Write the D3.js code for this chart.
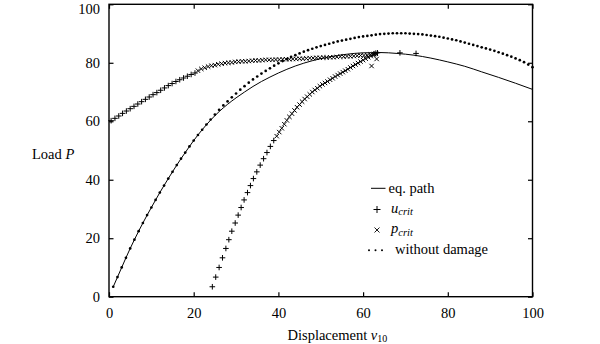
<!DOCTYPE html>
<html>
<head>
<meta charset="utf-8">
<script src="https://cdn.jsdelivr.net/npm/d3@7"></script>
<style>
  html, body { margin: 0; padding: 0; background: #fff; }
  svg { display: block; }
  text { font-family: "Liberation Serif", "Times New Roman", serif; fill: #000; }
</style>
</head>
<body>
<svg id="chart" width="600" height="344"></svg>
<script>
// ---------------- data ----------------
const xTicks = [0, 20, 40, 60, 80, 100];
const yTicks = [0, 20, 40, 60, 80, 100];

// equilibrium path (solid line)
const eqX = [1, 2, 3, 4, 5, 6, 7, 8, 9, 10, 12, 14, 16, 18, 20, 22, 24, 26, 28, 30, 32, 34, 36, 38, 40, 44, 48, 52, 56, 60, 64, 68, 72, 76, 80, 84, 88, 92, 96, 100];
const eqY = [3.4, 6.7, 10.0, 13.3, 16.5, 19.5, 22.4, 25.2, 27.9, 30.5, 35.6, 40.4, 45.0, 49.3, 53.4, 57.1, 60.4, 63.3, 65.8, 68.0, 70.0, 71.9, 73.6, 75.1, 76.5, 78.9, 80.7, 82.0, 82.9, 83.4, 83.5, 83.2, 82.6, 81.6, 80.3, 78.8, 76.9, 75.0, 73.0, 70.9];

// without damage (dots), at v10 = 1 .. 100
const noDamageY = [
  3.4, 6.7, 10.0, 13.3, 16.5, 19.5, 22.4, 25.2, 27.9, 30.5,
  33.1, 35.6, 38.0, 40.4, 42.7, 45.0, 47.2, 49.3, 51.4, 53.4,
  55.3, 57.1, 58.9, 60.6, 62.3, 63.9, 65.4, 66.8, 68.2, 69.5,
  70.8, 72.0, 73.2, 74.3, 75.3, 76.3, 77.2, 78.1, 79.0, 79.8,
  80.6, 81.3, 82.0, 82.6, 83.2, 83.8, 84.3, 84.8, 85.3, 85.7,
  86.1, 86.5, 86.9, 87.3, 87.6, 87.9, 88.2, 88.5, 88.8, 89.0,
  89.2, 89.4, 89.6, 89.8, 89.9, 90.0, 90.1, 90.1, 90.1, 90.1,
  90.0, 89.9, 89.8, 89.7, 89.5, 89.3, 89.1, 88.9, 88.6, 88.3,
  88.0, 87.7, 87.3, 86.9, 86.5, 86.1, 85.7, 85.3, 84.9, 84.5,
  84.1, 83.6, 83.1, 82.6, 82.1, 81.5, 80.9, 80.2, 79.4, 78.5
];

// u_crit (+)
const uCritX = [0.5, 1.4, 2.3, 3.2, 4.1, 5.0, 5.9, 6.8, 7.7, 8.6, 9.5, 10.4, 11.3, 12.2, 13.1, 14.0, 14.9, 15.8, 16.7, 17.6, 18.5, 19.4, 20.3,
  24.4, 25.2, 26.0, 26.8, 27.6, 28.3, 29.0, 29.8, 30.5, 31.2, 31.9, 32.7, 33.4, 34.1, 34.9, 35.7, 36.5, 37.3, 38.1, 38.9,
  62.6, 63.0, 63.4, 68.7, 72.5];
const uCritY = [60.2, 61.0, 61.8, 62.7, 63.5, 64.3, 65.1, 65.9, 66.7, 67.5, 68.3, 69.1, 69.8, 70.6, 71.4, 72.2, 72.9, 73.6, 74.2, 74.8, 75.4, 76.0, 76.5,
  3.4, 6.7, 10.0, 13.3, 16.5, 19.5, 22.4, 25.2, 27.9, 30.5, 33.1, 35.6, 38.0, 40.4, 42.7, 45.0, 47.2, 49.3, 51.4, 53.4,
  83.1, 83.3, 83.4, 83.4, 83.2];

// p_crit (x)
const pCritX = [21.0, 21.8, 22.6, 23.4, 24.2, 25.0, 25.8, 26.6, 27.4, 28.2, 29.0, 29.8, 30.6, 31.4, 32.2, 33.0, 33.8, 34.6, 35.4, 36.2,
  37.0, 37.8, 38.6, 39.4, 40.2, 41.0, 41.8, 42.6, 43.4, 44.2, 45.0, 45.8, 46.6, 47.4, 48.2, 49.0, 49.8, 50.6, 51.4, 52.2,
  53.0, 53.8, 54.6, 55.4, 56.2, 57.0, 57.8, 58.6, 59.4, 60.2, 61.0, 61.8, 62.6,
  39.6, 40.2, 40.8, 41.4, 42.0, 42.6, 43.2, 43.8, 44.4, 45.0, 45.6, 46.2, 46.8, 47.4, 48.0, 48.6, 49.2, 49.8, 50.4, 51.0,
  51.6, 52.2, 52.8, 53.4, 54.0, 54.6, 55.2, 55.8, 56.4, 57.0, 57.6, 58.2, 58.8, 59.4, 60.0, 60.6, 61.2, 61.8, 62.4, 63.0,
  62.0, 63.2];
const pCritY = [77.3, 77.9, 78.3, 78.7, 79.0, 79.2, 79.5, 79.7, 79.9, 80.0, 80.1, 80.3, 80.4, 80.5, 80.5, 80.6, 80.7, 80.8, 80.8, 80.9,
  81.0, 81.0, 81.0, 81.1, 81.1, 81.2, 81.2, 81.2, 81.3, 81.3, 81.4, 81.4, 81.5, 81.6, 81.6, 81.7, 81.7, 81.8, 81.8, 81.9,
  81.9, 82.0, 82.1, 82.1, 82.2, 82.2, 82.3, 82.4, 82.5, 82.5, 82.6, 82.8, 83.0,
  54.9, 56.3, 57.6, 59.0, 60.3, 61.5, 62.6, 63.7, 64.8, 65.7, 66.7, 67.6, 68.4, 69.2, 70.0, 70.7, 71.3, 72.0, 72.6, 73.1,
  73.6, 74.2, 74.7, 75.3, 75.8, 76.3, 76.8, 77.3, 77.8, 78.4, 78.9, 79.4, 79.9, 80.4, 80.9, 81.4, 81.9, 82.3, 82.7, 83.1,
  78.9, 81.3];

const legendLabels = ["eq. path", "u_crit", "p_crit", "without damage"];

// ---------------- layout ----------------
const svg = d3.select("#chart");
const L = 109, R = 532.5, T = 4.3, B = 296.7;
const x = d3.scaleLinear().domain([0, 100]).range([L, R]);
const y = d3.scaleLinear().domain([0, 100]).range([B, T]);
const FONT = 14.5;

// data marks
const g = svg.append("g");

g.append("path")
  .datum(eqX.map((v, i) => [v, eqY[i]]))
  .attr("fill", "none").attr("stroke", "#000").attr("stroke-width", 1)
  .attr("d", d3.line().x(d => x(d[0])).y(d => y(d[1])).curve(d3.curveMonotoneX));

g.selectAll("circle.nd")
  .data(noDamageY.map((v, i) => [i + 1, v]))
  .join("circle").attr("class", "nd")
  .attr("cx", d => x(d[0])).attr("cy", d => y(d[1])).attr("r", 1.35).attr("fill", "#000");

const plusPath = s => `M${-s},0H${s}M0,${-s}V${s}`;
const timesPath = s => `M${-s},${-s}L${s},${s}M${-s},${s}L${s},${-s}`;

g.selectAll("path.u")
  .data(uCritX.map((v, i) => [v, uCritY[i]]))
  .join("path").attr("class", "u")
  .attr("transform", d => `translate(${x(d[0])},${y(d[1])})`)
  .attr("d", plusPath(2.8)).attr("stroke", "#000").attr("stroke-width", 1).attr("fill", "none");

g.selectAll("path.p")
  .data(pCritX.map((v, i) => [v, pCritY[i]]))
  .join("path").attr("class", "p")
  .attr("transform", d => `translate(${x(d[0])},${y(d[1])})`)
  .attr("d", timesPath(2.2)).attr("stroke", "#000").attr("stroke-width", 1).attr("fill", "none");

// axes
const axB = d3.axisBottom(x).tickValues(xTicks).tickSizeInner(-4.5).tickSizeOuter(0).tickPadding(11);
const axL = d3.axisLeft(y).tickValues(yTicks).tickSizeInner(-4.5).tickSizeOuter(0).tickPadding(9);
const axT = d3.axisTop(x).tickValues(xTicks).tickSizeInner(-4.5).tickSizeOuter(0).tickFormat("");
const axR = d3.axisRight(y).tickValues(yTicks).tickSizeInner(-4.5).tickSizeOuter(0).tickFormat("");

function style(sel) {
  sel.select(".domain").remove();
  sel.selectAll("line").attr("stroke", "#000").attr("stroke-width", 1.2);
  sel.selectAll("text").attr("font-size", FONT).attr("fill", "#000");
}
svg.append("g").attr("transform", `translate(0,${B})`).call(axB).call(style);
const gl = svg.append("g").attr("transform", `translate(${L},0)`).call(axL).call(style);
// keep the top label inside the canvas
gl.selectAll(".tick text").filter(d => d === 100).attr("dy", "0.6em");
svg.append("g").attr("transform", `translate(0,${T})`).call(axT).call(style);
svg.append("g").attr("transform", `translate(${R},0)`).call(axR).call(style);

svg.append("rect").attr("x", L).attr("y", T).attr("width", R - L).attr("height", B - T)
  .attr("fill", "none").attr("stroke", "#000").attr("stroke-width", 1.4);

// axis titles
const yl = svg.append("text").attr("x", 32).attr("y", 158.5).attr("font-size", FONT);
yl.append("tspan").text("Load ");
yl.append("tspan").attr("font-style", "italic").text("P");

const xl = svg.append("text").attr("x", 287.5).attr("y", 339.5).attr("font-size", FONT);
xl.append("tspan").text("Displacement ");
xl.append("tspan").attr("font-style", "italic").text("v");
xl.append("tspan").attr("font-size", 10).attr("dy", 2).text("10");

// legend
const lg = svg.append("g");
const rowY = [188.3, 209.5, 230, 250.3];
const mx = 377;
// row 0: line
lg.append("line").attr("x1", 371).attr("x2", 385.5).attr("y1", rowY[0]).attr("y2", rowY[0])
  .attr("stroke", "#000").attr("stroke-width", 1);
lg.append("text").attr("x", 388.5).attr("y", rowY[0] + 4.5).attr("font-size", FONT).text(legendLabels[0]);
// row 1: plus
lg.append("path").attr("transform", `translate(${mx},${rowY[1]})`).attr("d", plusPath(3.5))
  .attr("stroke", "#000").attr("stroke-width", 1);
const t1 = lg.append("text").attr("x", 391).attr("y", rowY[1] + 3).attr("font-size", FONT).attr("font-style", "italic");
t1.append("tspan").text(legendLabels[1].split("_")[0]);
t1.append("tspan").attr("font-size", 10.5).attr("dy", 2.5).text(legendLabels[1].split("_")[1]);
// row 2: times
lg.append("path").attr("transform", `translate(${mx},${rowY[2]})`).attr("d", timesPath(2.5))
  .attr("stroke", "#000").attr("stroke-width", 0.9);
const t2 = lg.append("text").attr("x", 391).attr("y", rowY[2] + 3).attr("font-size", FONT).attr("font-style", "italic");
t2.append("tspan").text(legendLabels[2].split("_")[0]);
t2.append("tspan").attr("font-size", 10.5).attr("dy", 2.5).text(legendLabels[2].split("_")[1]);
// row 3: dots
lg.selectAll("circle.ld").data([369, 375.5, 382]).join("circle").attr("class", "ld")
  .attr("cx", d => d).attr("cy", rowY[3]).attr("r", 1.0).attr("fill", "#000");
lg.append("text").attr("x", 395).attr("y", rowY[3] + 3.5).attr("font-size", FONT).text(legendLabels[3]);
</script>
</body>
</html>
